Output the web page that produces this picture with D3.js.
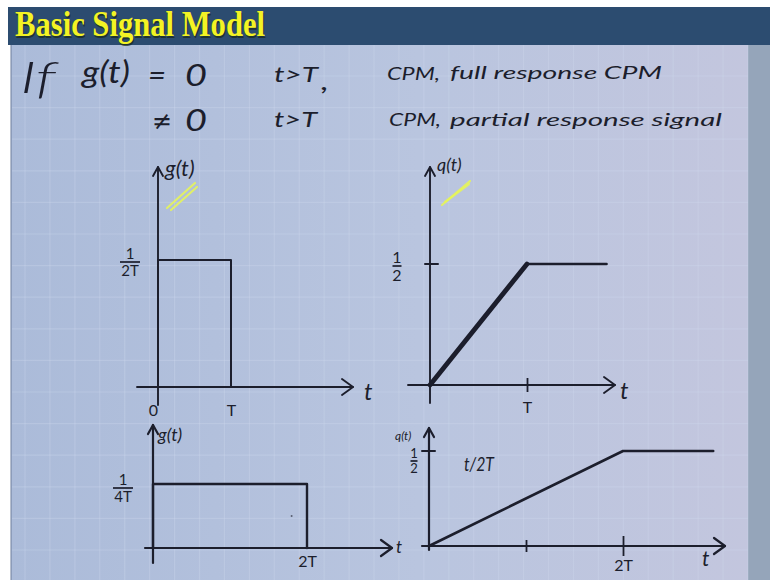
<!DOCTYPE html>
<html>
<head>
<meta charset="utf-8">
<script src="https://cdn.jsdelivr.net/npm/d3@7/dist/d3.min.js"></script>
<style>
  html, body { margin: 0; padding: 0; background: #ffffff; }
  svg { display: block; }
</style>
</head>
<body>
<svg id="board" width="770" height="580"></svg>
<script>
// ---- data (time in units of T, amplitude in units of 1/T) ----
const fullPulse    = [[0, 0], [0, 0.5], [1, 0.5], [1, 0]];      // g(t), full response
const fullPhase    = [[0, 0], [1, 0.5], [1.82, 0.5]];           // q(t), full response
const partialPulse = [[0, 0], [0, 0.25], [2, 0.25], [2, 0]];    // g(t), partial response
const partialPhase = [[0, 0], [2, 0.5], [2.93, 0.5]];           // q(t), partial response

const fullPulseTicks    = [{ t: 0, label: "0" }, { t: 1, label: "T" }];
const fullPhaseTicks    = [{ t: 1, label: "T" }];
const partialPulseTicks = [{ t: 2, label: "2T" }];
const partialPhaseTicks = [{ t: 1, label: "" }, { t: 2, label: "2T" }];

const fullPulseLevel    = { v: 0.5,  num: "1", den: "2T" };
const fullPhaseLevel    = { v: 0.5,  num: "1", den: "2" };
const partialPulseLevel = { v: 0.25, num: "1", den: "4T" };
const partialPhaseLevel = { v: 0.5,  num: "1", den: "2" };

// ---- board ----
const svg = d3.select("#board");
const INK = "#1c1e2c";
const HAND = "Lato, 'Open Sans', 'DejaVu Sans', sans-serif";
const WEIGHT = 400;

const defs = svg.append("defs");
const bg = defs.append("linearGradient").attr("id", "paper").attr("x1", 0).attr("x2", 1);
bg.append("stop").attr("offset", 0).attr("stop-color", "#abbbd9");
bg.append("stop").attr("offset", 0.55).attr("stop-color", "#b9c5df");
bg.append("stop").attr("offset", 1).attr("stop-color", "#c3c6de");

svg.append("rect").attr("x", 11).attr("y", 44).attr("width", 740).attr("height", 536).attr("fill", "url(#paper)");
svg.append("rect").attr("x", 748).attr("y", 44).attr("width", 22).attr("height", 536).attr("fill", "#95a5ba");
svg.append("line").attr("x1", 11).attr("x2", 11).attr("y1", 44).attr("y2", 580)
  .attr("stroke", "#6f7f9c").attr("stroke-width", 1);

// faint ruled grid of the board
const grid = svg.append("g").attr("stroke", "#d2dbee").attr("stroke-opacity", 0.3).attr("stroke-width", 1.2);
d3.range(25, 748, 24.93).forEach(x =>
  grid.append("line").attr("x1", x).attr("x2", x).attr("y1", 45).attr("y2", 580));
d3.range(44.4, 580, 31.6).forEach(y =>
  grid.append("line").attr("x1", 12).attr("x2", 748).attr("y1", y).attr("y2", y));

// title bar
svg.append("rect").attr("x", 8).attr("y", 7).attr("width", 762).attr("height", 38).attr("fill", "#2c4c70");
svg.append("text").attr("x", 16).attr("y", 37.5)
  .attr("font-family", "'Liberation Serif', 'DejaVu Serif', serif").attr("font-weight", "bold")
  .attr("font-size", 35).attr("textLength", 250).attr("lengthAdjust", "spacingAndGlyphs")
  .attr("fill", "#1a2a18").attr("opacity", 0.7).text("Basic Signal Model");
svg.append("text").attr("x", 15).attr("y", 36)
  .attr("font-family", "'Liberation Serif', 'DejaVu Serif', serif").attr("font-weight", "bold")
  .attr("font-size", 35).attr("textLength", 250).attr("lengthAdjust", "spacingAndGlyphs")
  .attr("fill", "#f3f324").text("Basic Signal Model");

// ---- handwritten statement ----
function note(x, y, str, size, len, family, weight) {
  const t = svg.append("text").attr("x", x).attr("y", y)
    .attr("font-family", family || HAND).attr("font-style", "italic").attr("font-weight", weight || WEIGHT)
    .attr("font-size", size).attr("fill", INK).text(str);
  if (len) t.attr("textLength", len).attr("lengthAdjust", "spacingAndGlyphs");
  return t;
}
note(20, 93, "If", 44, 36, null, 300);
note(82, 83, "g(t)", 31, 48);
note(148, 85, "=", 28, 18);
note(185, 86, "0", 30, 22);
note(274, 82, "t>T", 22, 44);
note(321, 90, ",", 26, 8);
note(387, 80, "CPM,", 17, 53);
note(450, 79, "full response CPM", 18, 212);

note(152, 130, "≠", 26, 20, "'DejaVu Sans', sans-serif");
note(185, 131, "0", 30, 22);
note(274, 127, "t>T", 22, 43);
note(389, 126, "CPM,", 17, 52);
note(450, 126, "partial response signal", 18, 272);

// ---- plotting helpers ----
function arrow(g, x, y, dir, len, spread, w) {
  let p;
  if (dir === "up") p = `M${x - spread},${y + len}L${x},${y}L${x + spread},${y + len}`;
  else p = `M${x - len},${y - spread}L${x},${y}L${x - len},${y + spread}`;
  g.append("path").attr("d", p).attr("fill", "none").attr("stroke", INK)
    .attr("stroke-width", w).attr("stroke-linecap", "round").attr("stroke-linejoin", "round");
}

function fraction(g, cx, yBar, level, size, barW) {
  g.append("text").attr("x", cx).attr("y", yBar - 3).attr("text-anchor", "middle")
    .attr("font-family", HAND).attr("font-weight", WEIGHT).attr("font-size", size)
    .attr("fill", INK).text(level.num);
  g.append("line").attr("x1", cx - barW / 2).attr("x2", cx + barW / 2)
    .attr("y1", yBar).attr("y2", yBar).attr("stroke", INK).attr("stroke-width", 1.7);
  g.append("text").attr("x", cx).attr("y", yBar + size * 0.95).attr("text-anchor", "middle")
    .attr("font-family", HAND).attr("font-weight", WEIGHT).attr("font-size", size)
    .attr("fill", INK).text(level.den);
}

function panel(cfg) {
  const g = svg.append("g");
  const x = d3.scaleLinear().domain(cfg.xDomain).range(cfg.xRange);
  const y = d3.scaleLinear().domain(cfg.yDomain).range(cfg.yRange);
  const x0 = x(0), y0 = y(0);

  // axes
  g.append("line").attr("x1", x0).attr("x2", x0).attr("y1", cfg.yAxis[0]).attr("y2", cfg.yAxis[1])
    .attr("stroke", INK).attr("stroke-width", cfg.axisW).attr("stroke-linecap", "round");
  arrow(g, x0, cfg.yAxis[1], "up", 9, 5, cfg.axisW);
  g.append("line").attr("x1", cfg.xAxis[0]).attr("x2", cfg.xAxis[1]).attr("y1", y0).attr("y2", y0)
    .attr("stroke", INK).attr("stroke-width", cfg.axisW).attr("stroke-linecap", "round");
  arrow(g, cfg.xAxis[1], y0, "right", 11, 8, cfg.axisW);

  // time ticks along the t axis
  const ax = d3.axisBottom(x)
    .tickValues(cfg.ticks.map(d => d.t))
    .tickFormat(v => cfg.ticks.find(d => d.t === v).label)
    .tickSize(cfg.tickLen * 2)
    .tickPadding(cfg.tickPad);
  const axG = g.append("g").attr("transform", `translate(0,${y0 - cfg.tickLen})`).call(ax);
  axG.select(".domain").remove();
  axG.selectAll(".tick line").attr("stroke", INK).attr("stroke-width", 1.8);
  if (cfg.tickSizes) {
    axG.selectAll(".tick line")
      .attr("y1", d => cfg.tickLen - cfg.tickSizes[d])
      .attr("y2", d => cfg.tickLen + cfg.tickSizes[d]);
  }
  axG.selectAll(".tick text").attr("fill", INK).attr("font-family", HAND).attr("font-weight", WEIGHT)
    .attr("font-size", cfg.tickFont)
    .attr("dx", d => (cfg.labelShift && cfg.labelShift[d]) || 0);

  // level tick on the amplitude axis
  if (cfg.levelTick) {
    g.append("line").attr("x1", x0 - cfg.levelTick[0]).attr("x2", x0 + cfg.levelTick[1])
      .attr("y1", y(cfg.level.v)).attr("y2", y(cfg.level.v))
      .attr("stroke", INK).attr("stroke-width", 2).attr("stroke-linecap", "round");
  }
  fraction(g, cfg.fracX, y(cfg.level.v) + cfg.fracDy, cfg.level, cfg.fracSize, cfg.fracBar);

  // the signal
  const line = d3.line().x(d => x(d[0])).y(d => y(d[1]));
  if (cfg.thickRamp) {
    g.append("path").attr("d", line(cfg.data.slice(0, 2))).attr("fill", "none")
      .attr("stroke", INK).attr("stroke-width", cfg.thickRamp).attr("stroke-linecap", "round");
  }
  g.append("path").attr("d", line(cfg.data)).attr("fill", "none")
    .attr("stroke", INK).attr("stroke-width", cfg.lineW)
    .attr("stroke-linejoin", "round").attr("stroke-linecap", "round");

  // names
  g.append("text").attr("x", cfg.name[0]).attr("y", cfg.name[1])
    .attr("font-family", HAND).attr("font-style", "italic").attr("font-weight", WEIGHT)
    .attr("font-size", cfg.name[2]).attr("fill", INK).text(cfg.name[3]);
  g.append("text").attr("x", cfg.tName[0]).attr("y", cfg.tName[1])
    .attr("font-family", HAND).attr("font-style", "italic").attr("font-weight", WEIGHT)
    .attr("font-size", cfg.tName[2]).attr("fill", INK).text("t");
  return { g, x, y };
}

// full response: rectangular pulse
const p1 = panel({
  data: fullPulse, xDomain: [0, 1], xRange: [158, 231], yDomain: [0, 0.5], yRange: [387, 260],
  yAxis: [405, 167], xAxis: [137, 353], axisW: 1.9, lineW: 2,
  ticks: fullPulseTicks, tickLen: 0, tickPad: 18, tickFont: 16, labelShift: { 0: -5 },
  level: fullPulseLevel, fracX: 130, fracDy: 2, fracSize: 15, fracBar: 20,
  name: [165, 176, 22, "g(t)"], tName: [364, 400, 24]
});
// full response: phase ramp
const p2 = panel({
  data: fullPhase, xDomain: [0, 1], xRange: [430, 527], yDomain: [0, 0.5], yRange: [385, 264],
  yAxis: [403, 167], xAxis: [408, 615], axisW: 1.9, lineW: 2.6, thickRamp: 4.8,
  ticks: fullPhaseTicks, tickLen: 7, tickPad: 10, tickFont: 16,
  level: fullPhaseLevel, levelTick: [5, 8], fracX: 397, fracDy: 2, fracSize: 16, fracBar: 9,
  name: [437, 171, 18, "q(t)"], tName: [620, 399, 24]
});
// partial response: pulse spread over 2T
const p3 = panel({
  data: partialPulse, xDomain: [0, 2], xRange: [153, 307], yDomain: [0, 0.25], yRange: [548, 484],
  yAxis: [563, 425], xAxis: [145, 392], axisW: 2.2, lineW: 2.4,
  ticks: partialPulseTicks, tickLen: 0, tickPad: 8, tickFont: 16,
  level: partialPulseLevel, fracX: 123, fracDy: 4, fracSize: 15, fracBar: 20,
  name: [158, 441, 18, "g(t)"], tName: [396, 553, 17]
});
p3.g.append("circle").attr("cx", p3.x(1.8)).attr("cy", p3.y(0.125)).attr("r", 1).attr("fill", INK).attr("opacity", 0.6);

// partial response: phase ramp
const p4 = panel({
  data: partialPhase, xDomain: [0, 2], xRange: [429, 623], yDomain: [0, 0.5], yRange: [546, 451],
  yAxis: [550, 428], xAxis: [422, 725], axisW: 2.2, lineW: 2.6,
  ticks: partialPhaseTicks, tickLen: 10, tickSizes: { 1: 6, 2: 10 }, tickPad: 4, tickFont: 16,
  level: partialPhaseLevel, levelTick: [7, 6], fracX: 414, fracDy: 10, fracSize: 13, fracBar: 7,
  name: [395, 440, 12, "q(t)"], tName: [702, 566, 21]
});
p4.g.append("text").attr("x", 464).attr("y", 471)
  .attr("font-family", HAND).attr("font-style", "italic").attr("font-weight", WEIGHT)
  .attr("font-size", 19).attr("textLength", 30).attr("lengthAdjust", "spacingAndGlyphs")
  .attr("fill", INK).text("t/2T");

// yellow highlighter marks under the function names
const marks = [[[167, 208], [195, 183]], [[171, 210], [197, 187]],
               [[442, 205], [470, 181]], [[445, 202], [469, 184]]];
svg.append("g").selectAll("line").data(marks).join("line")
  .attr("x1", d => d[0][0]).attr("y1", d => d[0][1]).attr("x2", d => d[1][0]).attr("y2", d => d[1][1])
  .attr("stroke", "#e6f55c").attr("stroke-width", 2.2).attr("stroke-linecap", "round").attr("opacity", 0.9);
</script>
</body>
</html>
